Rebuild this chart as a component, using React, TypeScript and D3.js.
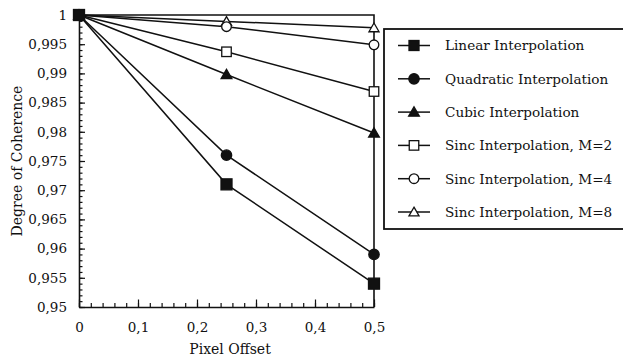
import React, { useEffect, useRef } from 'react';
import * as d3 from 'd3';

// pixel offsets on the x axis
const offsets = [0, 0.25, 0.5];

// degree of coherence, one array per interpolation method
const linearVals = [1, 0.971, 0.954];
const quadraticVals = [1, 0.976, 0.959];
const cubicVals = [1, 0.9898, 0.9798];
const sincM2Vals = [1, 0.9937, 0.9869];
const sincM4Vals = [1, 0.998, 0.9949];
const sincM8Vals = [1, 0.9989, 0.9978];

const seriesNames = [
  'Linear Interpolation',
  'Quadratic Interpolation',
  'Cubic Interpolation',
  'Sinc Interpolation, M=2',
  'Sinc Interpolation, M=4',
  'Sinc Interpolation, M=8',
];

const xTickLabels = ['0', '0,1', '0,2', '0,3', '0,4', '0,5'];

type Marker = 'square' | 'circle' | 'triangle';

const series = [
  { name: seriesNames[0], values: linearVals, marker: 'square' as Marker, filled: true },
  { name: seriesNames[1], values: quadraticVals, marker: 'circle' as Marker, filled: true },
  { name: seriesNames[2], values: cubicVals, marker: 'triangle' as Marker, filled: true },
  { name: seriesNames[3], values: sincM2Vals, marker: 'square' as Marker, filled: false },
  { name: seriesNames[4], values: sincM4Vals, marker: 'circle' as Marker, filled: false },
  { name: seriesNames[5], values: sincM8Vals, marker: 'triangle' as Marker, filled: false },
];

const FONT = "'DejaVu Serif', 'Liberation Serif', serif";

const drawMarker = (g: any, kind: Marker, filled: boolean, cx: number, cy: number, big: boolean) => {
  const fill = filled ? '#111' : '#fff';
  const sw = 1.3;
  if (kind === 'square') {
    const s = filled ? (big ? 11 : 10) : 9.5;
    g.append('rect')
      .attr('x', cx - s / 2).attr('y', cy - s / 2)
      .attr('width', s).attr('height', s)
      .attr('fill', fill).attr('stroke', '#111').attr('stroke-width', sw);
  } else if (kind === 'circle') {
    g.append('circle')
      .attr('cx', cx).attr('cy', cy).attr('r', filled ? 5.2 : 4.8)
      .attr('fill', fill).attr('stroke', '#111').attr('stroke-width', sw);
  } else {
    const sym = d3.symbol().type(d3.symbolTriangle).size(filled ? 50 : 44);
    g.append('path')
      .attr('d', sym())
      .attr('transform', `translate(${cx},${cy + 1})`)
      .attr('fill', fill).attr('stroke', '#111').attr('stroke-width', sw);
  }
};

const App = () => {
  const svgRef = useRef<SVGSVGElement>(null);

  useEffect(() => {
    const svg = d3.select(svgRef.current);
    svg.selectAll('*').remove();

    const left = 79, right = 374, top = 15, bottom = 307;
    const x = d3.scaleLinear().domain([0, 0.5]).range([left, right]);
    const y = d3.scaleLinear().domain([0.95, 1]).range([bottom, top]);

    // minor ticks (inward)
    svg.append('g')
      .attr('transform', `translate(0,${bottom})`)
      .call(d3.axisBottom(x).tickValues(d3.range(0, 0.5001, 0.02)).tickSize(-4).tickSizeOuter(0).tickFormat(() => ''))
      .call(g => g.select('.domain').remove());
    svg.append('g')
      .attr('transform', `translate(${left},0)`)
      .call(d3.axisLeft(y).tickValues(d3.range(0.95, 1.0001, 0.001)).tickSize(-3.5).tickSizeOuter(0).tickFormat(() => ''))
      .call(g => g.select('.domain').remove());

    // major ticks + labels
    const xAxis = svg.append('g')
      .attr('transform', `translate(0,${bottom})`)
      .call(d3.axisBottom(x).tickValues(d3.range(0, 0.5001, 0.1)).tickSize(-7.5).tickSizeOuter(0).tickPadding(15)
        .tickFormat((_, i) => xTickLabels[i]));
    const yAxis = svg.append('g')
      .attr('transform', `translate(${left},0)`)
      .call(d3.axisLeft(y).tickValues(d3.range(0.95, 1.0001, 0.005)).tickSize(-6).tickSizeOuter(0).tickPadding(12)
        .tickFormat(d => d3.format('.3~f')(+d).replace('.', ',')));

    [xAxis, yAxis].forEach(a => {
      a.selectAll('text').attr('font-family', FONT).attr('font-size', 13.5).attr('fill', '#111');
      a.select('.domain').attr('stroke', '#111').attr('stroke-width', 1.6);
    });
    svg.selectAll('g line').attr('stroke', '#111').attr('stroke-width', 1.2);

    // top and right frame
    svg.append('path')
      .attr('d', `M${left},${top}H${right}V${bottom}`)
      .attr('fill', 'none').attr('stroke', '#111').attr('stroke-width', 1.6);

    // axis titles
    svg.append('text')
      .attr('x', 230).attr('y', 354)
      .attr('text-anchor', 'middle')
      .attr('font-family', FONT).attr('font-size', 14).attr('fill', '#111')
      .text('Pixel Offset');
    svg.append('text')
      .attr('transform', `translate(22,${(top + bottom) / 2}) rotate(-90)`)
      .attr('text-anchor', 'middle')
      .attr('font-family', FONT).attr('font-size', 14).attr('fill', '#111')
      .text('Degree of Coherence');

    // series lines and markers
    const line = d3.line<number>().x((_, i) => x(offsets[i])).y(d => y(d));
    const order = [5, 4, 3, 2, 1, 0];
    order.forEach(si => {
      const s = series[si];
      svg.append('path')
        .attr('d', line(s.values))
        .attr('fill', 'none').attr('stroke', '#111').attr('stroke-width', 1.5);
    });
    order.forEach(si => {
      const s = series[si];
      const g = svg.append('g');
      s.values.forEach((v, i) => drawMarker(g, s.marker, s.filled, x(offsets[i]), y(v), true));
    });

    // legend
    const lg = svg.append('g');
    lg.append('rect')
      .attr('x', 384).attr('y', 29).attr('width', 260).attr('height', 200)
      .attr('fill', '#fff').attr('stroke', '#111').attr('stroke-width', 1.8);
    const rowY = d3.scaleLinear().domain([0, 5]).range([45.5, 212]);
    series.forEach((s, i) => {
      const cy = rowY(i);
      lg.append('line')
        .attr('x1', 398).attr('x2', 430).attr('y1', cy).attr('y2', cy)
        .attr('stroke', '#111').attr('stroke-width', 1.5);
      drawMarker(lg, s.marker, s.filled, 414, cy, false);
      lg.append('text')
        .attr('x', 445).attr('y', cy).attr('dy', '0.36em')
        .attr('font-family', FONT).attr('font-size', 13.6).attr('fill', '#111')
        .text(s.name);
    });
  }, []);

  return (
    <div style={{ position: 'absolute', left: 0, top: 0, width: 623, height: 358, background: '#fff' }}>
      <svg ref={svgRef} width={623} height={358} />
    </div>
  );
};

export default App;
